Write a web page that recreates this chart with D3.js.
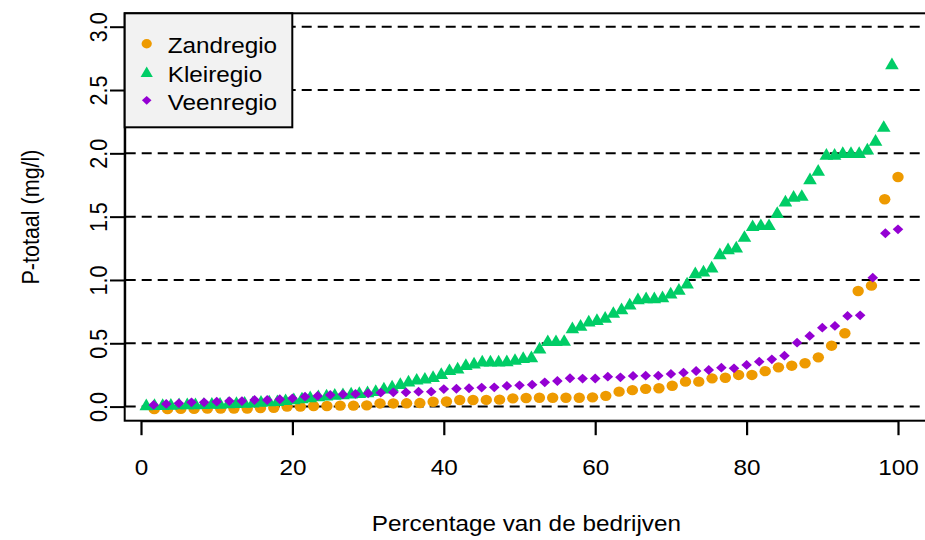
<!DOCTYPE html>
<html>
<head>
<meta charset="utf-8">
<script src="https://cdn.jsdelivr.net/npm/d3@7"></script>
<style>
  html, body { margin: 0; padding: 0; background: #fff; }
  svg { display: block; font-family: "Liberation Sans", Arial, Helvetica, sans-serif; }
</style>
</head>
<body>
<svg id="chart" width="925" height="540"></svg>
<script>
// ---------------- data ----------------
const seriesNames = ["Zandregio", "Kleiregio", "Veenregio"];
const seriesColors = ["#EE9A00", "#00CD66", "#9400D3"];

// P-totaal (mg/l), sorted, one value per company (percentile plot)
const zandregio = [
  -0.02, -0.02, -0.018, -0.018, -0.015, -0.015, -0.015, -0.015, -0.012, -0.01,
  0.0, 0.0, 0.005, 0.005, 0.008, 0.008, 0.01, 0.025, 0.025, 0.026,
  0.028, 0.038, 0.04, 0.052, 0.052, 0.053, 0.055, 0.065, 0.068, 0.07,
  0.07, 0.07, 0.07, 0.073, 0.085, 0.118, 0.13, 0.14, 0.145, 0.165,
  0.197, 0.197, 0.223, 0.228, 0.25, 0.25, 0.28, 0.31, 0.323, 0.342,
  0.389, 0.481, 0.579, 0.913, 0.955, 1.637, 1.813
];
const kleiregio = [
  0.018, 0.02, 0.02, 0.022, 0.025, 0.025, 0.026, 0.028, 0.03, 0.03,
  0.033, 0.035, 0.038, 0.04, 0.045, 0.048, 0.05, 0.058, 0.065, 0.072,
  0.08, 0.088, 0.095, 0.10, 0.105, 0.11, 0.115, 0.12, 0.13, 0.15,
  0.165, 0.185, 0.205, 0.22, 0.228, 0.24, 0.265, 0.295, 0.307, 0.336,
  0.347, 0.363, 0.363, 0.363, 0.365, 0.376, 0.39, 0.397, 0.465, 0.524,
  0.524, 0.526, 0.626, 0.645, 0.679, 0.69, 0.708, 0.747, 0.776, 0.813,
  0.855, 0.863, 0.863, 0.871, 0.90, 0.929, 0.979, 1.06, 1.074, 1.105,
  1.21, 1.25, 1.263, 1.347, 1.432, 1.44, 1.44, 1.535, 1.626, 1.664,
  1.671, 1.803, 1.869, 1.995, 1.995, 2.01, 2.01, 2.01, 2.037, 2.106,
  2.216, 2.71
];
const veenregio = [
  0.013, 0.021, 0.026, 0.034, 0.034, 0.039, 0.044, 0.044, 0.052, 0.052,
  0.058, 0.065, 0.078, 0.084, 0.092, 0.097, 0.10, 0.105, 0.11, 0.113,
  0.113, 0.118, 0.118, 0.138, 0.141, 0.145, 0.15, 0.152, 0.163, 0.168,
  0.173, 0.192, 0.202, 0.224, 0.221, 0.222, 0.236, 0.231, 0.242, 0.244,
  0.244, 0.258, 0.268, 0.281, 0.289, 0.307, 0.302, 0.329, 0.355, 0.373,
  0.402, 0.505, 0.558, 0.623, 0.637, 0.716, 0.721, 1.018, 1.369, 1.40
];
// percentage of companies covered by each series (first and last point)
const xRanges = [[1.75, 100], [0.7, 99.2], [1.67, 100]];

const xTicks = [0, 20, 40, 60, 80, 100];
const yTicks = [0, 0.5, 1.0, 1.5, 2.0, 2.5, 3.0];
const xTitle = "Percentage van de bedrijven";
const yTitle = "P-totaal (mg/l)";

// ---------------- layout ----------------
const SX = 1.13; // horizontal stretch of the original picture
const box = { left: 124.7, top: 13.3, right: 928, bottom: 420.7 };
const x = d3.scaleLinear().domain([0, 100]).range([141, 898]);
const y = d3.scaleLinear().domain([0, 3]).range([406.6, 26.7]);

const svg = d3.select("#chart");

svg.append("defs").append("clipPath").attr("id", "plotclip")
  .append("rect")
  .attr("x", box.left).attr("y", box.top)
  .attr("width", box.right - box.left).attr("height", box.bottom - box.top);

// dashed horizontal reference lines
svg.append("g").attr("clip-path", "url(#plotclip)")
  .selectAll("line").data(yTicks).join("line")
  .attr("x1", box.left + 1).attr("x2", box.right)
  .attr("y1", d => y(d)).attr("y2", d => y(d))
  .attr("stroke", "#000").attr("stroke-width", 2)
  .attr("stroke-dasharray", "10 6");

// marker shapes
const circlePath = "M-5.7,0 A5.7,5.2 0 1,0 5.7,0 A5.7,5.2 0 1,0 -5.7,0 Z";
const trianglePath = "M0,-5.85 L6.8,5.85 L-6.8,5.85 Z";
const diamondPath = "M0,-4.9 L5.3,0 L0,4.9 L-5.3,0 Z";
const shapes = [circlePath, trianglePath, diamondPath];

const allSeries = [zandregio, kleiregio, veenregio];
const pts = svg.append("g").attr("clip-path", "url(#plotclip)");
allSeries.forEach((vals, s) => {
  const idx = d3.scaleLinear().domain([0, vals.length - 1]).range(xRanges[s]);
  pts.append("g")
    .selectAll("path").data(vals).join("path")
    .attr("d", shapes[s])
    .attr("fill", seriesColors[s])
    .attr("transform", (d, i) => `translate(${x(idx(i))},${y(d)})`);
});

// plot frame
svg.append("rect")
  .attr("x", box.left).attr("y", box.top)
  .attr("width", box.right - box.left).attr("height", box.bottom - box.top)
  .attr("fill", "none").attr("stroke", "#000").attr("stroke-width", 2);

// x axis
const xAxis = svg.append("g")
  .attr("transform", `translate(0,${box.bottom})`)
  .call(d3.axisBottom(x).tickValues(xTicks).tickFormat(d3.format("d"))
    .tickSize(14.5).tickSizeOuter(0));
xAxis.select(".domain").attr("stroke", "#000").attr("stroke-width", 2);
xAxis.selectAll(".tick line").attr("stroke", "#000").attr("stroke-width", 2.2);
xAxis.selectAll(".tick text")
  .attr("x", 0).attr("y", 0).attr("dy", 0)
  .attr("transform", `translate(0,54) scale(${SX},1)`)
  .attr("font-size", 21.5).attr("fill", "#000")
  .attr("font-family", "Liberation Sans, Arial, sans-serif");

// y axis
const yAxis = svg.append("g")
  .attr("transform", `translate(${box.left},0)`)
  .call(d3.axisLeft(y).tickValues(yTicks).tickFormat(d3.format(".1f"))
    .tickSize(14.7).tickSizeOuter(0));
yAxis.select(".domain").attr("stroke", "#000").attr("stroke-width", 2);
yAxis.selectAll(".tick line").attr("stroke", "#000").attr("stroke-width", 2);
yAxis.selectAll(".tick text")
  .attr("x", 0).attr("y", 0).attr("dy", 0)
  .attr("text-anchor", "middle")
  .attr("transform", `translate(-17.7,0) scale(${SX},1) rotate(-90)`)
  .attr("font-size", 21.5).attr("fill", "#000")
  .attr("font-family", "Liberation Sans, Arial, sans-serif");

// axis titles
svg.append("text")
  .attr("transform", `translate(${(box.left + box.right) / 2},531) scale(${SX},1)`)
  .attr("text-anchor", "middle").attr("font-size", 21.5).attr("fill", "#000")
  .text(xTitle);
svg.append("text")
  .attr("transform", `translate(39,${(box.top + box.bottom) / 2}) scale(${SX},1) rotate(-90)`)
  .attr("text-anchor", "middle").attr("font-size", 21.5).attr("fill", "#000")
  .text(yTitle);

// legend
const legend = svg.append("g");
legend.append("rect")
  .attr("x", box.left).attr("y", box.top)
  .attr("width", 292.3 - box.left).attr("height", 127.3 - box.top)
  .attr("fill", "#F2F2F2").attr("stroke", "#000").attr("stroke-width", 2);
const rowSym = [43.8, 71.7, 100.3];
const rowBase = [53.3, 81.7, 110];
seriesNames.forEach((name, s) => {
  legend.append("path")
    .attr("d", shapes[s]).attr("fill", seriesColors[s])
    .attr("transform", `translate(146.7,${rowSym[s]}) scale(0.9)`);
  legend.append("text")
    .attr("transform", `translate(167.7,${rowBase[s]}) scale(${SX},1)`)
    .attr("font-size", 21.5).attr("fill", "#000")
    .text(name);
});
</script>
</body>
</html>
